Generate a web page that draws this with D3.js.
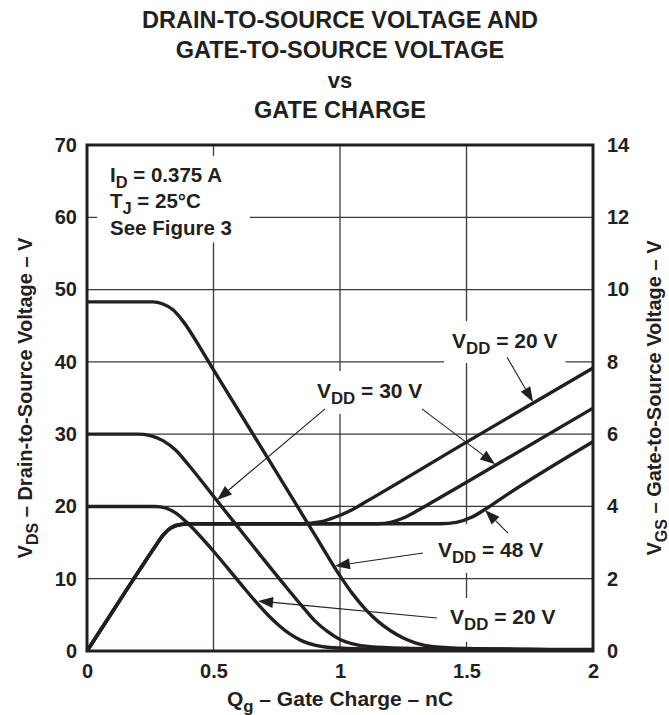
<!DOCTYPE html>
<html><head><meta charset="utf-8">
<script src="https://cdn.jsdelivr.net/npm/d3@7"></script>
<style>
body{margin:0;background:#fff}
svg{display:block}
text{font-family:"Liberation Sans",Arial,Helvetica,sans-serif;font-weight:bold;fill:#231f20}
</style>
</head><body><svg id="c" width="669" height="715"></svg>
<script>
// ---------- data ----------
const titleLines = ["DRAIN-TO-SOURCE VOLTAGE AND", "GATE-TO-SOURCE VOLTAGE", "vs", "GATE CHARGE"];
const xTicks = [0, 0.5, 1, 1.5, 2];
const xTickLabels = ["0", "0.5", "1", "1.5", "2"];
const vdsTicks = [0, 10, 20, 30, 40, 50, 60, 70];
const vgsTicks = [0, 2, 4, 6, 8, 10, 12, 14];

// VDS curves (left axis, V) vs Qg (nC)
const vds48 = [[0,48.3],[0.26,48.3],[0.3,48.0],[0.34,47.2],[0.38,45.6],[0.45,41.8],[0.5,38.9],[0.6,33.2],[0.7,27.5],[0.8,21.8],[0.9,16.1],[1.0,10.4],[1.05,7.9],[1.1,5.8],[1.15,4.1],[1.2,2.8],[1.25,1.8],[1.3,1.1],[1.37,0.6],[1.5,0.35],[1.75,0.25],[2,0.2]];
const vds30 = [[0,30],[0.2,30],[0.25,29.8],[0.3,29.1],[0.35,27.8],[0.4,25.8],[0.5,21.4],[0.6,17.0],[0.7,12.6],[0.8,8.3],[0.86,5.8],[0.9,4.2],[0.95,2.7],[1.0,1.6],[1.05,1.0],[1.12,0.6],[1.25,0.4],[1.5,0.3],[2,0.15]];
const vds20 = [[0,20],[0.27,20],[0.31,19.8],[0.35,19.1],[0.4,17.6],[0.5,13.8],[0.6,9.6],[0.68,6.3],[0.72,4.8],[0.76,3.5],[0.8,2.4],[0.85,1.4],[0.9,0.8],[0.97,0.45],[1.1,0.3],[1.5,0.2],[2,0.1]];

// VGS curves (right axis, V) vs Qg (nC)
const vgsRise = [[0,0],[0.1,1.08],[0.2,2.16],[0.27,2.9],[0.3,3.2],[0.33,3.4],[0.37,3.5],[0.42,3.52]];
const vgs20 = vgsRise.concat([[0.85,3.52],[0.92,3.57],[0.98,3.7],[1.04,3.88],[1.1,4.12],[1.5,5.78],[2,7.83]]);
const vgs30 = vgsRise.concat([[1.15,3.52],[1.2,3.56],[1.25,3.68],[1.3,3.86],[1.35,4.06],[1.5,4.67],[2,6.72]]);
const vgs48 = vgsRise.concat([[1.4,3.52],[1.46,3.56],[1.52,3.7],[1.58,3.95],[1.65,4.28],[2,5.79]]);

// ---------- layout ----------
const W = 669, H = 715;
const M = {left: 87, right: 593, top: 145, bottom: 651};
const svg = d3.select("#c");
svg.append("rect").attr("width", W).attr("height", H).attr("fill", "#fff");

const x = d3.scaleLinear().domain([0, 2]).range([M.left, M.right]);
const yL = d3.scaleLinear().domain([0, 70]).range([M.bottom, M.top]);
const yR = d3.scaleLinear().domain([0, 14]).range([M.bottom, M.top]);
const INK = "#231f20";

// title
svg.append("g").selectAll("text").data(titleLines).join("text")
  .attr("x", (M.left + M.right) / 2)
  .attr("y", (d, i) => [28, 58, 88, 118][i])
  .attr("text-anchor", "middle")
  .attr("font-size", (d, i) => i === 2 ? 22 : 23.5)
  .text(d => d);

const gGrid = svg.append("g");
const gBg = svg.append("g");
const gCurves = svg.append("g");
const gAnno = svg.append("g");
const gFrame = svg.append("g");

// grid
gGrid.selectAll("line.v").data(xTicks.slice(1, -1)).join("line")
  .attr("x1", d => x(d)).attr("x2", d => x(d))
  .attr("y1", M.top).attr("y2", M.bottom)
  .attr("stroke", "#3a3a3a").attr("stroke-width", 1.3);
gGrid.selectAll("line.h").data(vdsTicks.slice(1, -1)).join("line")
  .attr("x1", M.left).attr("x2", M.right)
  .attr("y1", d => yL(d)).attr("y2", d => yL(d))
  .attr("stroke", "#3a3a3a").attr("stroke-width", 1.3);

// axes via d3 axis generators (ticks hidden, labels styled)
function styleAxis(g) {
  g.select(".domain").remove();
  g.selectAll(".tick line").remove();
  g.selectAll(".tick text").attr("font-size", 20).attr("fill", INK)
    .attr("font-family", '"Liberation Sans",Arial,sans-serif').attr("font-weight", "bold");
}
svg.append("g").attr("transform", `translate(0,${M.bottom})`)
  .call(d3.axisBottom(x).tickValues(xTicks).tickFormat((d, i) => xTickLabels[i]).tickSize(0).tickPadding(13))
  .call(styleAxis);
svg.append("g").attr("transform", `translate(${M.left},0)`)
  .call(d3.axisLeft(yL).tickValues(vdsTicks).tickFormat(d3.format("d")).tickSize(0).tickPadding(10))
  .call(styleAxis);
svg.append("g").attr("transform", `translate(${M.right},0)`)
  .call(d3.axisRight(yR).tickValues(vgsTicks).tickFormat(d3.format("d")).tickSize(0).tickPadding(14))
  .call(styleAxis);

// rich text helper: parts = [[text, isSub]]
function rich(sel, parts, fs) {
  sel.attr("font-size", fs);
  let shifted = false;
  parts.forEach(([t, sub]) => {
    const ts = sel.append("tspan").text(t);
    if (sub && !shifted) { ts.attr("font-size", fs * 0.8).attr("dy", fs * 0.28); shifted = true; }
    else if (!sub && shifted) { ts.attr("dy", -fs * 0.28); shifted = false; }
    else if (sub) ts.attr("font-size", fs * 0.8);
  });
  return sel;
}

// axis titles
rich(svg.append("text").attr("x", (M.left + M.right) / 2).attr("y", 706).attr("text-anchor", "middle"),
  [["Q"], ["g", 1], [" \u2013 Gate Charge \u2013 nC"]], 21);
rich(svg.append("text").attr("text-anchor", "middle")
  .attr("transform", `translate(32,${(M.top + M.bottom) / 2}) rotate(-90)`),
  [["V"], ["DS", 1], [" \u2013 Drain-to-Source Voltage \u2013 V"]], 20);
rich(svg.append("text").attr("text-anchor", "middle")
  .attr("transform", `translate(661,${(M.top + M.bottom) / 2}) rotate(-90)`),
  [["V"], ["GS", 1], [" \u2013 Gate-to-Source Voltage \u2013 V"]], 20);

// curves
const lineL = d3.line().x(d => x(d[0])).y(d => yL(d[1])).curve(d3.curveMonotoneX);
const lineR = d3.line().x(d => x(d[0])).y(d => yR(d[1])).curve(d3.curveMonotoneX);
[vds48, vds30, vds20].forEach(s => gCurves.append("path").attr("d", lineL(s))
  .attr("fill", "none").attr("stroke", INK).attr("stroke-width", 3.4).attr("stroke-linejoin", "round"));
[vgs20, vgs30, vgs48].forEach(s => gCurves.append("path").attr("d", lineR(s))
  .attr("fill", "none").attr("stroke", INK).attr("stroke-width", 3.4).attr("stroke-linejoin", "round"));

// annotations (positions in data units)
function pt(p) { return [x(p[0]), p[2] === "R" ? yR(p[1]) : yL(p[1])]; }
function arrow(from, to) {
  const [x1, y1] = pt(from), [x2, y2] = pt(to);
  const dx = x2 - x1, dy = y2 - y1, L = Math.hypot(dx, dy), ux = dx / L, uy = dy / L;
  const hl = 15, hw = 5.5;
  const bx = x2 - ux * hl, by = y2 - uy * hl;
  gAnno.append("line").attr("x1", x1).attr("y1", y1).attr("x2", bx).attr("y2", by)
    .attr("stroke", INK).attr("stroke-width", 1.1);
  gAnno.append("path").attr("d", `M${x2},${y2}L${bx - uy * hw},${by + ux * hw}L${bx + uy * hw},${by - ux * hw}Z`)
    .attr("fill", INK);
}
function label(pos, parts, pad) {
  const [lx, ly] = pt(pos);
  const t = rich(gAnno.append("text").attr("x", lx).attr("y", ly), parts, 21);
  const b = t.node().getBBox();
  const p = pad || [7, 7, 7, 7];
  gBg.append("rect").attr("x", b.x - p[3]).attr("y", b.y - p[0])
    .attr("width", b.width + p[1] + p[3]).attr("height", b.height + p[0] + p[2]).attr("fill", "#fff");
}

// conditions box
const condLines = [[["I"], ["D", 1], [" = 0.375 A"]], [["T"], ["J", 1], [" = 25\u00b0C"]], [["See Figure 3"]]];
const condBase = [64.9, 61.3, 57.5];
const gCond = gAnno.append("g");
condLines.forEach((parts, i) => rich(gCond.append("text").attr("x", x(0.091)).attr("y", yL(condBase[i])), parts, 20.5));
{
  const b = gCond.node().getBBox();
  gBg.append("rect").attr("x", b.x - 13).attr("y", b.y - 7).attr("width", b.width + 31).attr("height", b.height + 10).attr("fill", "#fff");
}

label([1.443, 8.38, "R"], [["V"], ["DD", 1], [" = 20 V"]], [8, 8, 5, 8]);
arrow([1.660, 8.13, "R"], [1.763, 6.89, "R"]);

label([0.909, 35.0], [["V"], ["DD", 1], [" = 30 V"]], [8, 8, 6, 8]);
arrow([0.941, 33.5], [0.514, 20.9]);
arrow([1.324, 33.5], [1.613, 5.17, "R"]);

label([1.387, 13.0], [["V"], ["DD", 1], [" = 48 V"]], [14, 8, 6, 8]);
arrow([1.664, 16.3], [1.573, 19.5]);
arrow([1.328, 13.55], [0.980, 11.76]);

label([1.435, 3.73], [["V"], ["DD", 1], [" = 20 V"]], [7, 8, 8, 8]);
arrow([1.383, 4.56], [0.676, 6.92]);

// frame
gFrame.append("rect").attr("x", M.left).attr("y", M.top)
  .attr("width", M.right - M.left).attr("height", M.bottom - M.top)
  .attr("fill", "none").attr("stroke", INK).attr("stroke-width", 3);
</script>
</body></html>
